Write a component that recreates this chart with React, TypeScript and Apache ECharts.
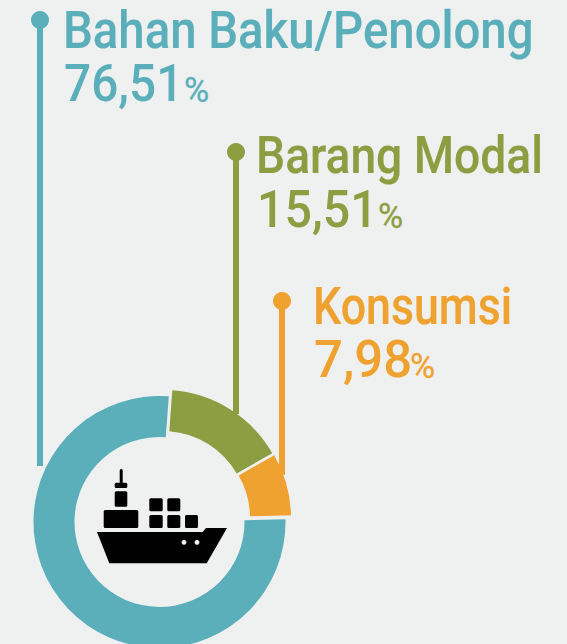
import React, { useEffect, useRef } from "react";
import * as echarts from "echarts";

const categories = ["Bahan Baku/Penolong", "Barang Modal", "Konsumsi"];
const values = [76.51, 15.51, 7.98];
const colors = ["#5aafbb", "#8c9e42", "#efa22f"];
const BG = "#eff1f1";
const FONT = 'Roboto, "Liberation Sans", sans-serif';

const FS = 52;
const K = 0.36; // central line of the text above its baseline, in em

const txt = (s: string, c: string, x: number, base: number, fs: number, sx: number, weight: number, sw: number) => ({
  type: "text",
  x,
  y: base - K * fs,
  scaleX: sx,
  style: { text: s, fill: c, stroke: c, lineWidth: sw, font: `${weight} ${fs}px ${FONT}`, verticalAlign: "middle", align: "left" },
});

const label = (i: number, x: number, yName: number, sxName: number, xVal: number, yVal: number, sxVal: number, xPct: number) => [
  txt(categories[i], colors[i], x, yName, FS, sxName, 500, 0.2),
  txt(values[i].toFixed(2).replace(".", ","), colors[i], xVal, yVal, FS, sxVal, 500, 0),
  txt("%", colors[i], xPct, yVal, 35, 0.98, 400, 0.3),
];

const leader = (i: number, x: number, y0: number, y1: number) => [
  { type: "line", shape: { x1: x, y1: y0, x2: x, y2: y1 }, style: { stroke: colors[i], lineWidth: 6 } },
  { type: "circle", shape: { cx: x, cy: y0, r: 9 }, style: { fill: colors[i] } },
];

const box = (x: number, y: number, w: number, h: number) => ({
  type: "rect", shape: { x, y, width: w, height: h, r: 1.5 }, style: { fill: "#000" },
});

const ship = [
  box(119.7, 469, 3, 15),
  box(114.7, 482.7, 12.6, 5.3),
  box(114.7, 491.3, 12.6, 15.4),
  box(103.7, 510, 34.6, 18),
  box(149.3, 498.3, 13.4, 13),
  box(167.3, 498.3, 13, 13),
  box(149.3, 515, 13.4, 13),
  box(167.3, 515, 13, 13),
  box(185, 515, 13, 13),
  { type: "polygon", shape: { points: [[97, 532], [202.7, 532], [206, 528], [227, 528], [206.7, 563.3], [109.3, 563.3]] }, style: { fill: "#000" } },
  { type: "circle", shape: { cx: 184, cy: 542.3, r: 2.5 }, style: { fill: BG } },
  { type: "circle", shape: { cx: 197, cy: 542.3, r: 2.5 }, style: { fill: BG } },
];

const total = values.reduce((a, b) => a + b, 0);
const centers = [[159.5, 522], [163, 516], [165, 518]];
const radii = [[85, 126], [85, 126], [85, 126]];
const ROTATION = 1.2;

const slices = () => {
  let used = 0;
  return values.map((v, i) => {
    const startAngle = ROTATION - (used / total) * 360;
    used += v;
    return {
      type: "pie",
      silent: true,
      center: centers[i],
      radius: radii[i],
      startAngle,
      clockwise: true,
      label: { show: false },
      labelLine: { show: false },
      data: [
        { name: categories[i], value: v, itemStyle: { color: colors[i] } },
        { name: "", value: total - v, itemStyle: { color: "transparent" } },
      ],
    };
  });
};

export default function App() {
  const ref = useRef<HTMLDivElement>(null);
  useEffect(() => {
    document.body.style.margin = "0";
    const chart = echarts.init(ref.current!, null, { renderer: "svg" });
    chart.setOption({
      animation: false,
      backgroundColor: BG,
      series: slices(),
      graphic: [
        ...leader(0, 40, 20, 466),
        ...leader(1, 236, 152, 414),
        ...leader(2, 282, 301, 475),
        ...label(0, 63, 49, 0.91, 64, 102, 0.92, 184),
        ...label(1, 256, 174, 0.888, 257, 228, 0.93, 378),
        ...label(2, 313, 325, 0.86, 314, 378, 0.98, 410),
        ...ship,
      ],
    });
    return () => chart.dispose();
  }, []);
  return <div ref={ref} style={{ width: 567, height: 644 }} />;
}
